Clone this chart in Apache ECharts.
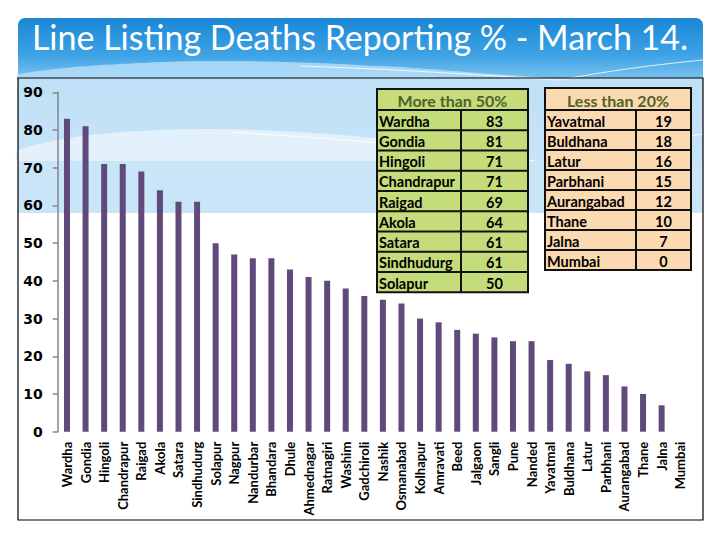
<!DOCTYPE html>
<html>
<head>
<meta charset="utf-8">
<script src="https://cdn.jsdelivr.net/npm/echarts@6/dist/echarts.min.js"></script>
<style>
html,body{margin:0;padding:0;background:#fff;}
#main{width:720px;height:540px;}
</style>
</head>
<body>
<div id="main"></div>
<script>
var titleText = 'Line Listing Deaths Reporting % - March 14.';
var categories = ['Wardha','Gondia','Hingoli','Chandrapur','Raigad','Akola','Satara','Sindhudurg','Solapur','Nagpur','Nandurbar','Bhandara','Dhule','Ahmednagar','Ratnagiri','Washim','Gadchiroli','Nashik','Osmanabad','Kolhapur','Amravati','Beed','Jalgaon','Sangli','Pune','Nanded','Yavatmal','Buldhana','Latur','Parbhani','Aurangabad','Thane','Jalna','Mumbai'];
var values = [83,81,71,71,69,64,61,61,50,47,46,46,43,41,40,38,36,35,34,30,29,27,26,25,24,24,19,18,16,15,12,10,7,0];
var yTicks = [0,10,20,30,40,50,60,70,80,90];
var highTitle = 'More than 50%';
var lowTitle = 'Less than 20%';

var chart = echarts.init(document.getElementById('main'), null, {renderer:'svg', width:720, height:540});

function buildTable(title, rows, x, y, w, split, headH, rowH, fill) {
  var children = [];
  var totalH = headH + rows.length * rowH;
  children.push({type:'rect', shape:{x:x, y:y, width:w, height:totalH}, style:{fill:fill, stroke:'#111', lineWidth:2}});
  children.push({type:'text', x:x + w/2, y:y + headH/2 + 1, style:{text:title, fill:'#4f6228', font:'bold 16px Lato', align:'center', verticalAlign:'middle'}});
  for (var i = 0; i < rows.length; i++) {
    var ry = y + headH + i * rowH;
    children.push({type:'line', shape:{x1:x, y1:ry, x2:x + w, y2:ry}, style:{stroke:'#111', lineWidth:2}});
    children.push({type:'text', x:x + 2, y:ry + rowH/2 + 1, style:{text:rows[i][0], fill:'#000', font:'bold 14.5px Lato', align:'left', verticalAlign:'middle'}});
    children.push({type:'text', x:split + (x + w - split)/2, y:ry + rowH/2 + 1, style:{text:String(rows[i][1]), fill:'#000', font:'bold 14.5px Lato', align:'center', verticalAlign:'middle'}});
  }
  children.push({type:'line', shape:{x1:split, y1:y + headH, x2:split, y2:y + totalH}, style:{stroke:'#111', lineWidth:2}});
  return {type:'group', z:100, children:children};
}

var highRows = [], lowRows = [];
for (var i = 0; i < categories.length; i++) {
  if (values[i] >= 50) highRows.push([categories[i], values[i]]);
  if (values[i] < 20) lowRows.push([categories[i], values[i]]);
}

var option = {
  backgroundColor:'#ffffff',
  animation:false,
  title:{
    text:titleText, left:'center', top:14,
    textStyle:{color:'#ffffff', fontFamily:'Lato', fontWeight:'normal', fontSize:34}
  },
  graphic:[
    {type:'rect', z:-10, shape:{x:18, y:18, width:685, height:62, r:[7,7,0,0]},
     style:{fill:{type:'linear', x:0, y:0, x2:0, y2:1, colorStops:[{offset:0, color:'#1a86d5'},{offset:0.6, color:'#3ea3e6'},{offset:1, color:'#7cc3ef'}]}}},
    {type:'polygon', z:-9, shape:{points:[[18,80],[18,74],[120,64],[240,61],[380,66],[480,73],[560,80]], smooth:0.4},
     style:{fill:'rgba(190,226,248,0.75)'}},
    {type:'bezierCurve', z:-9, shape:{x1:300, y1:66, cpx1:420, cpy1:70, cpx2:520, cpy2:78, x2:560, y2:80},
     style:{fill:'none', stroke:'rgba(255,255,255,0.8)', lineWidth:1}},
    {type:'bezierCurve', z:-9, shape:{x1:560, y1:80, cpx1:600, cpy1:72, cpx2:660, cpy2:64, x2:703, y2:60},
     style:{fill:'none', stroke:'rgba(255,255,255,0.8)', lineWidth:1}},
    {type:'rect', z:-10, shape:{x:18, y:78, width:685, height:135},
     style:{fill:{type:'linear', x:0, y:0, x2:0, y2:1, colorStops:[{offset:0, color:'#bfe0f6'},{offset:1, color:'#cbe6f9'}]}}},
    {type:'polygon', z:-9, shape:{points:[[18,161],[18,150],[90,135],[200,129],[330,134],[460,148],[560,165],[703,165],[703,161]], smooth:0.3},
     style:{fill:'#e2f1fb'}},
    {type:'bezierCurve', z:-9, shape:{x1:230, y1:132, cpx1:360, cpy1:140, cpx2:470, cpy2:150, x2:560, y2:165},
     style:{fill:'none', stroke:'rgba(255,255,255,0.9)', lineWidth:1}},
    {type:'bezierCurve', z:-9, shape:{x1:560, y1:165, cpx1:600, cpy1:150, cpx2:660, cpy2:140, x2:703, y2:134},
     style:{fill:'none', stroke:'rgba(255,255,255,0.9)', lineWidth:1}},
    {type:'rect', z:-9, shape:{x:18, y:161, width:685, height:52}, style:{fill:'#c9e5f8'}},
    {type:'rect', z:50, shape:{x:18, y:78, width:685, height:442}, style:{fill:'none', stroke:'#000', lineWidth:1.2}},
    buildTable(highTitle, highRows, 377, 89, 151, 461, 21, 20.25, '#c5dc7a'),
    buildTable(lowTitle, lowRows, 545, 88, 146, 636, 22, 20, '#fcdab1')
  ],
  grid:{left:57.7, right:30.5, top:92.3, bottom:108.3, containLabel:false},
  xAxis:{
    type:'category', data:categories,
    axisLine:{show:false}, axisTick:{show:false},
    axisLabel:{rotate:90, interval:0, margin:10, color:'#000', fontFamily:'Lato', fontWeight:'bold', fontSize:13}
  },
  yAxis:{
    type:'value', min:yTicks[0], max:yTicks[yTicks.length-1], interval:10,
    splitLine:{show:false},
    axisLine:{show:true, lineStyle:{color:'#868686', width:1.5}},
    axisTick:{show:true, length:5, lineStyle:{color:'#868686', width:1.5}},
    axisLabel:{margin:15, color:'#000', fontFamily:'DejaVu Sans', fontWeight:'bold', fontSize:14}
  },
  series:[{
    type:'bar', data:values, barWidth:6,
    itemStyle:{color:'#604a7b'}
  }]
};
chart.setOption(option);
</script>
</body>
</html>
